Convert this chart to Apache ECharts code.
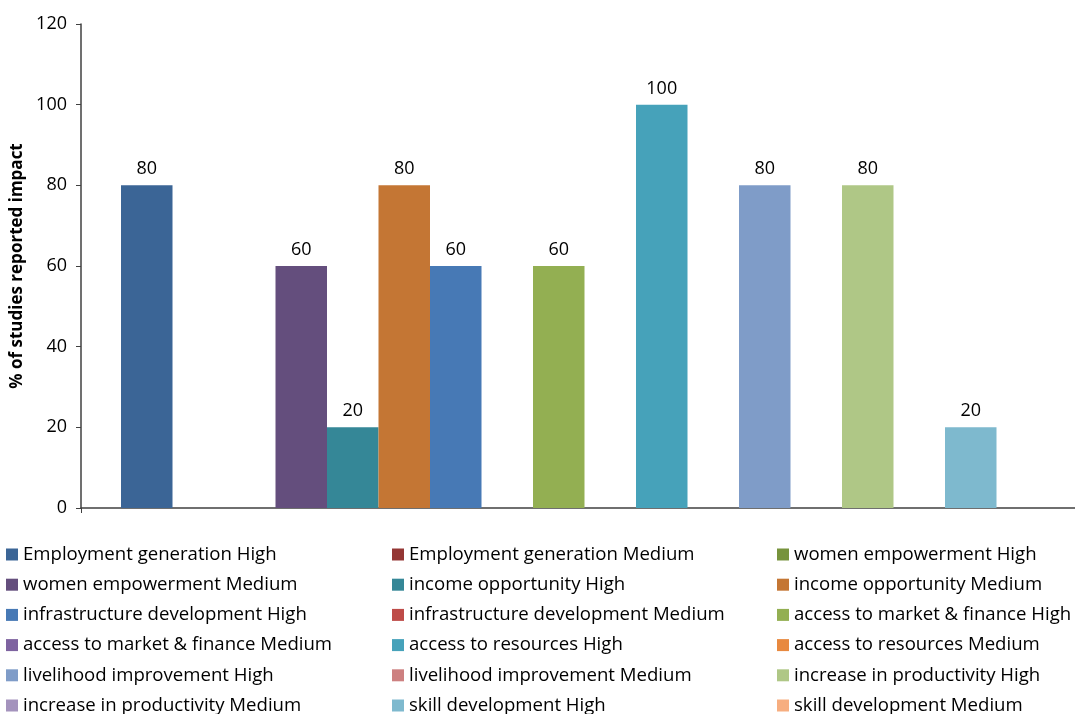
<!DOCTYPE html>
<html>
<head>
<meta charset="utf-8">
<script src="https://cdn.jsdelivr.net/npm/echarts@6/dist/echarts.min.js"></script>
<style>
  html, body { margin: 0; padding: 0; background: #fff; overflow: hidden; }
  #main { width: 1088px; height: 760px; }
</style>
</head>
<body>
<div id="main"></div>
<script>
// 시리즈 이름 (범례 순서)
var seriesNames = [
  'Employment generation High', 'Employment generation Medium', 'women empowerment High',
  'women empowerment Medium', 'income opportunity High', 'income opportunity Medium',
  'infrastructure development High', 'infrastructure development Medium', 'access to market & finance High',
  'access to market & finance Medium', 'access to resources High', 'access to resources Medium',
  'livelihood improvement High', 'livelihood improvement Medium', 'increase in productivity High',
  'increase in productivity Medium', 'skill development High', 'skill development Medium'
];
var values = [80, 0, 0, 60, 20, 80, 60, 0, 60, 0, 100, 0, 80, 0, 80, 0, 20, 0];
var colors = [
  '#3b6596', '#943634', '#77933c',
  '#644e7d', '#358797', '#c47634',
  '#4779b5', '#be4b48', '#93af52',
  '#7e63a0', '#46a2ba', '#e8893f',
  '#7f9cc8', '#cd8080', '#afc786',
  '#a493bd', '#7eb9ce', '#f7ae80'
];
var yTicks = [0, 20, 40, 60, 80, 100, 120];

// 차트 영역은 창보다 조금 크게 (오른쪽 축선이 잘려 보이도록, 범례가 접히지 않도록)
var chart = echarts.init(document.getElementById('main'));

var font = '"Open Sans", sans-serif';

// 범례 3열
var legendLeft = [6, 392, 777];
var legends = legendLeft.map(function (x, col) {
  return {
    orient: 'vertical',
    left: x,
    top: 545,
    padding: 0,
    itemGap: 11.2,
    itemWidth: 12,
    itemHeight: 12,
    icon: 'rect',
    selectedMode: false,
    data: seriesNames.filter(function (n, i) { return i % 3 === col; }),
    textStyle: { fontFamily: font, fontSize: 18.6, lineHeight: 18.6, color: '#000' }
  };
});

var series = seriesNames.map(function (name, i) {
  return {
    name: name,
    type: 'bar',
    barWidth: 51.5,
    barGap: '0%',
    itemStyle: { color: colors[i] },
    label: {
      show: true,
      position: 'top',
      distance: 7,
      fontFamily: font,
      fontSize: 18,
      color: '#000',
      formatter: function (p) { return p.value ? p.value : ''; }
    },
    data: [values[i]]
  };
});

var option = {
  animation: false,
  legend: legends,
  grid: { left: 81, right: 0, top: 24, bottom: 252 },
  xAxis: {
    type: 'category',
    data: [''],
    axisLine: { lineStyle: { color: '#404040', width: 1.5 } },
    axisTick: { show: true, length: 5, lineStyle: { color: '#404040' } },
    axisLabel: { show: false }
  },
  yAxis: {
    type: 'value',
    min: yTicks[0],
    max: yTicks[yTicks.length - 1],
    interval: 20,
    name: '% of studies reported impact',
    nameLocation: 'middle',
    nameGap: 51,
    nameTextStyle: { fontFamily: font, fontSize: 17, fontWeight: 'bold', color: '#000' },
    axisLine: { show: true, lineStyle: { color: '#404040', width: 1.5 } },
    axisTick: { show: true, length: 5, lineStyle: { color: '#404040' } },
    splitLine: { show: false },
    axisLabel: { fontFamily: font, fontSize: 18, color: '#000', margin: 14 }
  },
  series: series
};

chart.setOption(option);
</script>
</body>
</html>
